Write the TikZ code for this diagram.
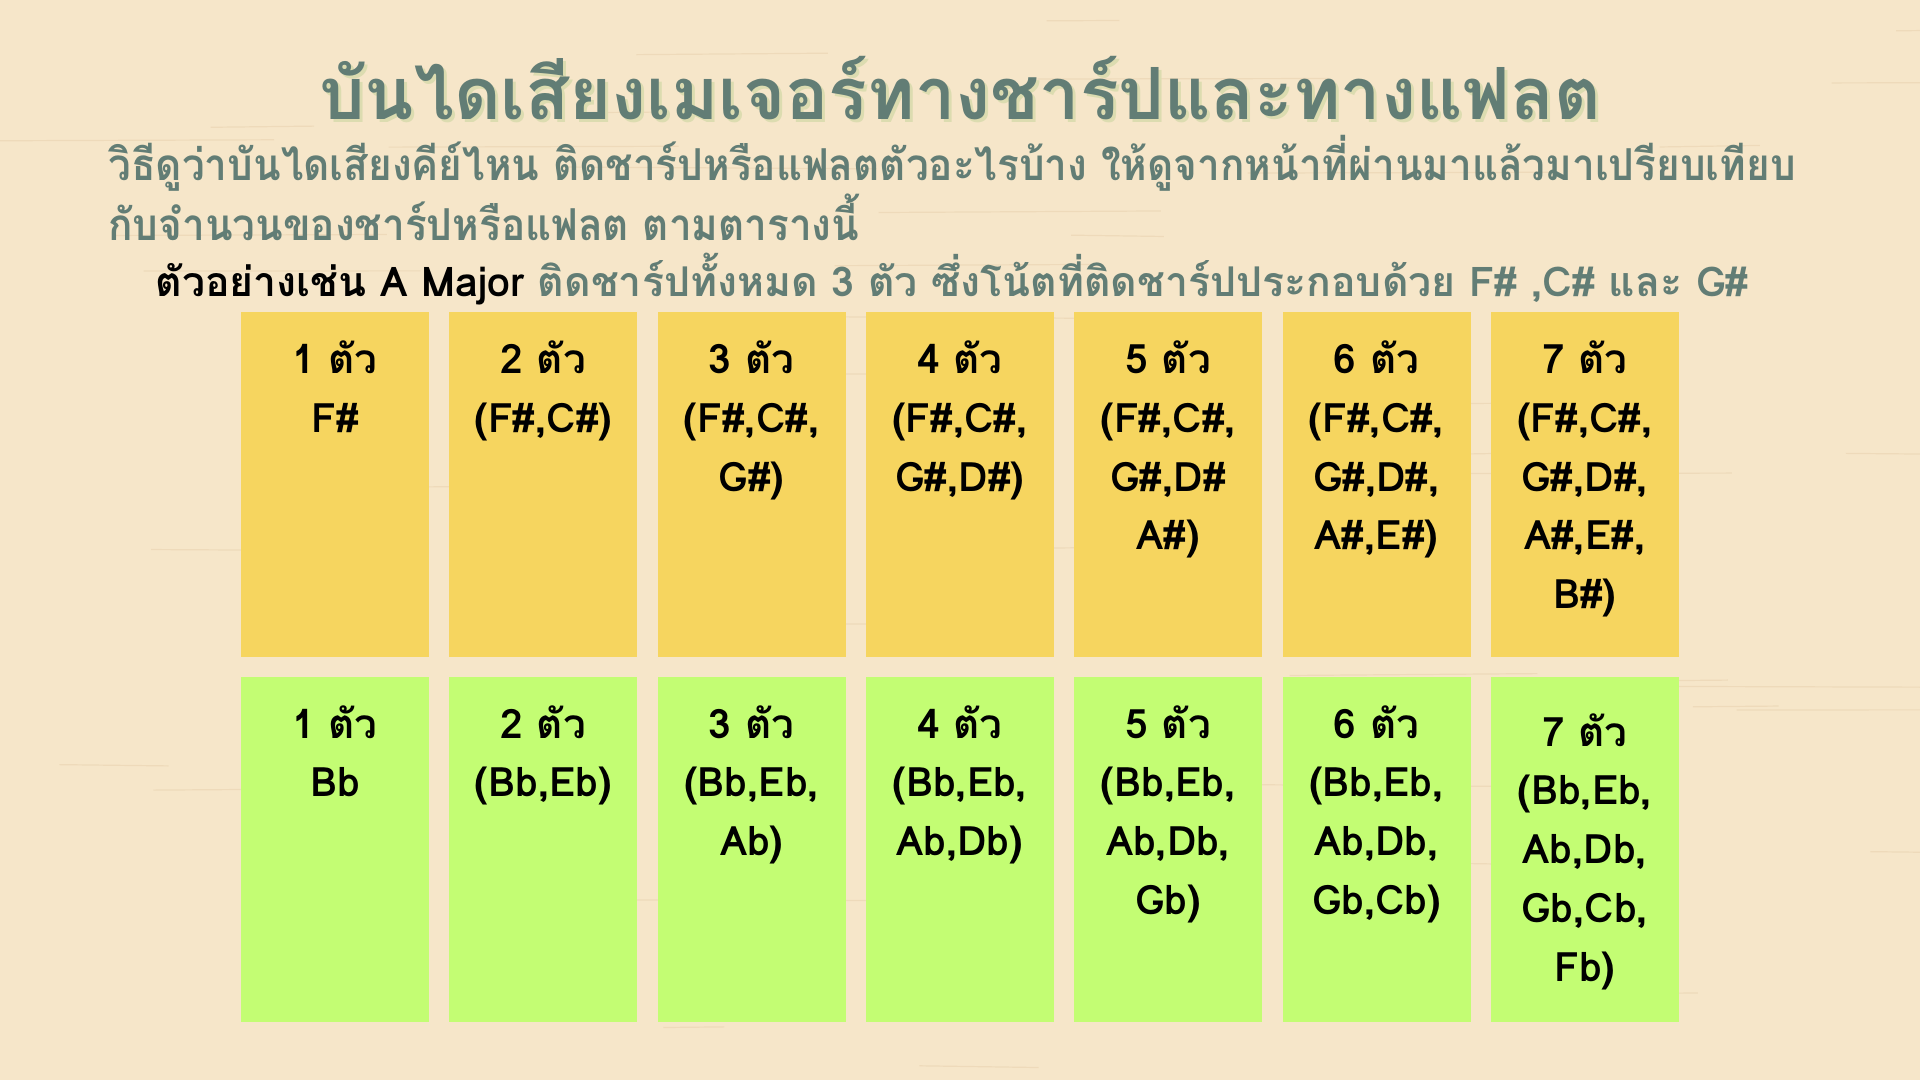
\documentclass[tikz,border=0pt]{standalone}
\usepackage{fontspec}
\setmainfont[Script=Thai]{Loma}
\newfontfamily\thaicond[Script=Thai,FakeStretch=0.92]{Loma}
\definecolor{bg}{HTML}{F6E6C9}
\definecolor{grain}{HTML}{E9D3B0}
\definecolor{ybox}{HTML}{F6D55F}
\definecolor{gbox}{HTML}{C3FD73}
\definecolor{sage}{HTML}{627D75}
\definecolor{shade}{HTML}{DCDCB0}
\tikzset{
  cell/.style={minimum width=94pt, minimum height=172.5pt, inner sep=0pt, draw=none},
  ycell/.style={cell, fill=ybox},
  gcell/.style={cell, fill=gbox},
  celltext/.style={anchor=north, align=center, inner sep=0pt, text=black,
     font=\fontsize{20.3}{29.35}\selectfont\bfseries},
  titletext/.style={anchor=base, inner sep=0pt, font=\fontsize{36}{42}\selectfont\bfseries},
  subtext/.style={anchor=base west, inner sep=0pt, text=sage, font=\thaicond\fontsize{22}{26}\selectfont\bfseries},
  exampletext/.style={anchor=base west, inner sep=0pt, text=sage, font=\fontsize{20.5}{26}\selectfont\bfseries},
  streak/.style={draw=grain, line width=0.6pt, opacity=0.6},
}
\begin{document}
\begin{tikzpicture}[x=0.5pt,y=-0.5pt]
\fill[bg] (0,0) rectangle (1920,1080);
\useasboundingbox (0,0) rectangle (1920,1080);
% faint wood grain
\pgfmathsetseed{7}
\foreach \k in {1,...,45} {
  \pgfmathsetmacro{\sx}{rnd*1900}
  \pgfmathsetmacro{\sy}{rnd*1080}
  \pgfmathsetmacro{\sl}{60+rnd*260}
  \draw[streak] (\sx,\sy) -- ++(\sl,{(rnd-0.5)*4});
}
% title
\node[titletext, text=shade] (titleshadow) at (963,123) {บันไดเสียงเมเจอร์ทางชาร์ปและทางแฟลต};
\node[titletext, text=sage] (title) at (960,120) {บันไดเสียงเมเจอร์ทางชาร์ปและทางแฟลต};
\node[subtext] (sub1) at (108,181) {วิธีดูว่าบันไดเสียงคีย์ไหน ติดชาร์ปหรือแฟลตตัวอะไรบ้าง ให้ดูจากหน้าที่ผ่านมาแล้วมาเปรียบเทียบ};
\node[subtext] (sub2) at (108,241) {กับจำนวนของชาร์ปหรือแฟลต ตามตารางนี้};
\node[exampletext] (sub3) at (155,297) {\textcolor{black}{ตัวอย่างเช่น A Major} ติดชาร์ปทั้งหมด 3 ตัว ซึ่งโน้ตที่ติดชาร์ปประกอบด้วย F\# ,C\# และ G\#};
% boxes
\foreach \i in {0,...,6} {
  \node[ycell] (y\i) at ({335+208.3*\i},484.5) {};
  \node[gcell] (g\i) at ({335+208.3*\i},849) {};
}
\node[celltext] (ty0) at ([yshift=-14.5pt]y0.north) {1 ตัว\\F\#};
\node[celltext] (ty1) at ([yshift=-14.5pt]y1.north) {2 ตัว\\(F\#,C\#)};
\node[celltext] (ty2) at ([yshift=-14.5pt]y2.north) {3 ตัว\\(F\#,C\#,\\G\#)};
\node[celltext] (ty3) at ([yshift=-14.5pt]y3.north) {4 ตัว\\(F\#,C\#,\\G\#,D\#)};
\node[celltext] (ty4) at ([yshift=-14.5pt]y4.north) {5 ตัว\\(F\#,C\#,\\G\#,D\#\\A\#)};
\node[celltext] (ty5) at ([yshift=-14.5pt]y5.north) {6 ตัว\\(F\#,C\#,\\G\#,D\#,\\A\#,E\#)};
\node[celltext] (ty6) at ([yshift=-14.5pt]y6.north) {7 ตัว\\(F\#,C\#,\\G\#,D\#,\\A\#,E\#,\\B\#)};
\node[celltext] (tg0) at ([yshift=-14.5pt]g0.north) {1 ตัว\\Bb};
\node[celltext] (tg1) at ([yshift=-14.5pt]g1.north) {2 ตัว\\(Bb,Eb)};
\node[celltext] (tg2) at ([yshift=-14.5pt]g2.north) {3 ตัว\\(Bb,Eb,\\Ab)};
\node[celltext] (tg3) at ([yshift=-14.5pt]g3.north) {4 ตัว\\(Bb,Eb,\\Ab,Db)};
\node[celltext] (tg4) at ([yshift=-14.5pt]g4.north) {5 ตัว\\(Bb,Eb,\\Ab,Db,\\Gb)};
\node[celltext] (tg5) at ([yshift=-14.5pt]g5.north) {6 ตัว\\(Bb,Eb,\\Ab,Db,\\Gb,Cb)};
\node[celltext] (tg6) at ([yshift=-18.5pt]g6.north) {7 ตัว\\(Bb,Eb,\\Ab,Db,\\Gb,Cb,\\Fb)};
\end{tikzpicture}
\end{document}
